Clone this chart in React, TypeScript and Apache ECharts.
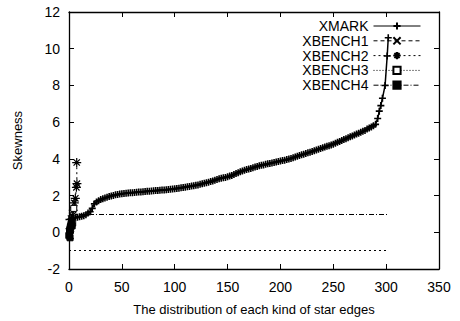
import React, { useEffect, useRef } from "react";
import * as echarts from "echarts";

const FONT = "Liberation Sans, Arial, Helvetica, sans-serif";

const xTicks = { min: 0, max: 350, interval: 50 };
const yTicks = { min: -2, max: 12, interval: 2 };

const xmarkX = [
  0, 2, 4, 6, 8, 10, 12, 14, 16, 18, 20, 22, 24, 26, 28, 30, 32, 34, 36, 38, 40, 42, 44, 46, 48,
  50, 52, 54, 56, 58, 60, 62, 64, 66, 68, 70, 72, 74, 76, 78, 80, 82, 84, 86, 88, 90, 92, 94, 96, 98,
  100, 102, 104, 106, 108, 110, 112, 114, 116, 118, 120, 122, 124, 126, 128, 130, 132, 134, 136, 138,
  140, 142, 144, 146, 148, 150, 152, 154, 156, 158, 160, 162, 164, 166, 168, 170, 172, 174, 176, 178,
  180, 182, 184, 186, 188, 190, 192, 194, 196, 198, 200, 202, 204, 206, 208, 210, 212, 214, 216, 218,
  220, 222, 224, 226, 228, 230, 232, 234, 236, 238, 240, 242, 244, 246, 248, 250, 252, 254, 256, 258,
  260, 262, 264, 266, 268, 270, 272, 274, 276, 278, 280, 282, 284, 286, 288, 290,
  292, 293.5, 295, 296.5, 299, 301, 302,
];
const xmarkY = [
  0.7, 0.74, 0.78, 0.8, 0.82, 0.84, 0.87, 0.9, 0.95, 1.05, 1.12, 1.3, 1.55, 1.65, 1.72, 1.78, 1.83, 1.87, 1.91, 1.95, 1.98, 2.01, 2.04, 2.06, 2.08,
  2.1, 2.11, 2.13, 2.14, 2.15, 2.16, 2.17, 2.18, 2.19, 2.2, 2.21, 2.22, 2.23, 2.24, 2.25, 2.26, 2.27, 2.28, 2.29, 2.3, 2.31, 2.32, 2.33, 2.34, 2.36,
  2.37, 2.39, 2.4, 2.42, 2.44, 2.46, 2.48, 2.5, 2.52, 2.54, 2.56, 2.58, 2.61, 2.64, 2.67, 2.7, 2.73, 2.76, 2.8, 2.84,
  2.88, 2.92, 2.95, 2.97, 2.99, 3.02, 3.06, 3.1, 3.15, 3.2, 3.25, 3.3, 3.34, 3.38, 3.42, 3.45, 3.48, 3.52, 3.56, 3.59,
  3.62, 3.65, 3.67, 3.7, 3.73, 3.75, 3.78, 3.8, 3.83, 3.85, 3.88, 3.91, 3.93, 3.96, 3.99, 4.02, 4.06, 4.1, 4.14, 4.18,
  4.22, 4.25, 4.29, 4.33, 4.36, 4.4, 4.44, 4.48, 4.52, 4.56, 4.6, 4.64, 4.68, 4.72, 4.76, 4.8, 4.85, 4.9, 4.95, 5.0,
  5.05, 5.1, 5.15, 5.2, 5.25, 5.3, 5.35, 5.4, 5.45, 5.5, 5.55, 5.62, 5.68, 5.74, 5.8, 5.88,
  6.2, 6.6, 6.9, 7.3, 8.0, 9.6, 10.6,
];

const xbench1 = [[0.5, 0.1], [1, 0.3], [2, 0.2], [3, 0.6], [1.5, -0.2]];
const xbench2 = [[1, 0.2], [3, 0.9], [4, 1.2], [5, 1.6], [6, 1.85], [7, 2.45], [7.5, 2.65], [7.3, 3.8]];
const xbench3 = [[0, -0.2], [0.5, 0], [1, 0.2], [2, 0.4], [3.5, 0.5], [4.5, 1.3]];
const xbench4 = [[0, -0.15], [0.5, 0.05], [1, 0.15], [1.5, 0.3], [2, 0.45], [2.5, 0.6], [3, 0.35], [1, -0.3]];

const refLineLow = [[0, -1], [300, -1]];
const refLineHigh = [[0, 1], [302, 1]];

const legendNames = ["XMARK", "XBENCH1", "XBENCH2", "XBENCH3", "XBENCH4"];

const PLUS = "path://M0,5L10,5M5,0L5,10";
const CROSS = "path://M0,0L10,10M10,0L0,10";
const STAR = "path://M0,5L10,5M5,0L5,10M1.5,1.5L8.5,8.5M8.5,1.5L1.5,8.5";

export default function App() {
  const ref = useRef<HTMLDivElement>(null);
  useEffect(() => {
    if (!ref.current) return;
    const chart = echarts.init(ref.current, undefined, { renderer: "svg" });
    const black = "#000";
    const axisCommon = {
      type: "value" as const,
      axisLine: { show: true, onZero: false, lineStyle: { color: black, width: 1.3 } },
      axisTick: { show: true, inside: true, length: 5, lineStyle: { color: black, width: 1 } },
      splitLine: { show: false },
    };
    const strokeItem = { color: black, borderColor: black, borderWidth: 1.2 };
    const mkLine = (pts: number[][], type: any) => ({
      silent: true,
      symbol: ["none", "none"],
      label: { show: false },
      lineStyle: { color: black, width: 1, type },
      data: [[{ coord: pts[0] }, { coord: pts[1] }]],
    });
    chart.setOption({
      animation: false,
      backgroundColor: "#fff",
      grid: { left: 69, right: 21, top: 12, bottom: 48, containLabel: false },
      legend: {
        data: legendNames,
        orient: "vertical",
        right: 39,
        top: 19,
        align: "right",
        itemWidth: 47,
        itemHeight: 9,
        itemGap: 0.8,
        padding: 0,
        selectedMode: false,
        lineStyle: { width: 1 },
        textStyle: { color: black, fontSize: 14, lineHeight: 14, fontFamily: FONT },
      },
      xAxis: [
        {
          ...axisCommon,
          ...xTicks,
          position: "bottom",
          axisLabel: { color: black, fontSize: 14, margin: 11, fontFamily: FONT },
          name: "The distribution of each kind of star edges",
          nameLocation: "middle",
          nameGap: 34,
          nameTextStyle: { color: black, fontSize: 13, fontFamily: FONT },
        },
        { ...axisCommon, ...xTicks, position: "top", axisLabel: { show: false } },
      ],
      yAxis: [
        {
          ...axisCommon,
          ...yTicks,
          position: "left",
          axisLabel: { color: black, fontSize: 14, margin: 9, fontFamily: FONT },
          name: "Skewness",
          nameLocation: "middle",
          nameGap: 45,
          nameTextStyle: { color: black, fontSize: 13, fontFamily: FONT },
        },
        { ...axisCommon, ...yTicks, position: "right", axisLabel: { show: false } },
      ],
      series: [
        {
          name: "XMARK",
          type: "line",
          data: xmarkX.map((x, i) => [x, xmarkY[i]]),
          symbol: PLUS,
          symbolSize: 7,
          itemStyle: { color: black, borderColor: black, borderWidth: 1.6 },
          lineStyle: { color: black, width: 1.5 },
          z: 3,
        },
        {
          name: "XBENCH1",
          type: "line",
          data: xbench1,
          symbol: CROSS,
          symbolSize: 6,
          itemStyle: strokeItem,
          lineStyle: { color: black, width: 1, type: [4, 3] },
          markLine: mkLine(refLineLow, [2, 3]),
        },
        {
          name: "XBENCH2",
          type: "line",
          data: xbench2,
          symbol: STAR,
          symbolSize: 9,
          itemStyle: strokeItem,
          lineStyle: { color: black, width: 1, type: [2, 3] },
        },
        {
          name: "XBENCH3",
          type: "line",
          data: xbench3,
          symbol: "rect",
          symbolSize: 6,
          itemStyle: { color: "#fff", borderColor: black, borderWidth: 1 },
          lineStyle: { color: black, width: 1, type: [1, 2] },
        },
        {
          name: "XBENCH4",
          type: "line",
          data: xbench4,
          symbol: "rect",
          symbolSize: 6,
          itemStyle: { color: black, borderColor: black, borderWidth: 1 },
          lineStyle: { color: black, width: 1, type: [5, 2, 1, 2] },
          markLine: mkLine(refLineHigh, [5, 2, 1, 2]),
        },
      ],
    });
    return () => chart.dispose();
  }, []);
  return <div ref={ref} style={{ width: 460, height: 321, position: "absolute", left: 0, top: 0 }} />;
}
